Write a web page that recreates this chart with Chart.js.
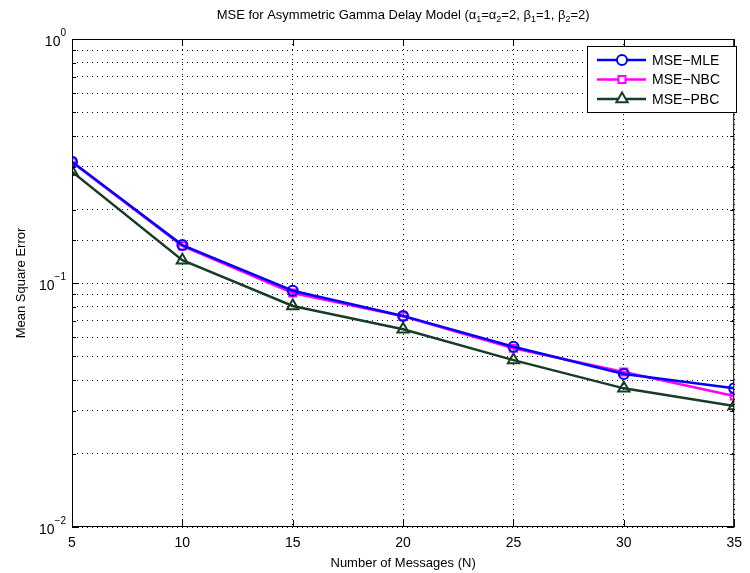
<!DOCTYPE html>
<html><head><meta charset="utf-8">
<script src="https://cdn.jsdelivr.net/npm/chart.js@4/dist/chart.umd.min.js"></script>
<style>html,body{margin:0;padding:0;background:#fff}#c{display:block}</style>
</head><body>
<canvas id="c" width="750" height="573"></canvas>
<script>
const messages = [5, 10, 15, 20, 25, 30, 35];
const mseMLE = [0.314, 0.143, 0.093, 0.0733, 0.0548, 0.0424, 0.0370];
const mseNBC = [0.313, 0.142, 0.091, 0.0730, 0.0540, 0.0432, 0.0344];
const msePBC = [0.286, 0.124, 0.0805, 0.0646, 0.0483, 0.0370, 0.0313];
const seriesNames = ['MSE\u2212MLE', 'MSE\u2212NBC', 'MSE\u2212PBC'];
const yTickLabels = [{v:1, exp:'0'}, {v:0.1, exp:'\u22121'}, {v:0.01, exp:'\u22122'}];
const xTickValues = [5, 10, 15, 20, 25, 30, 35];

const FONT = '"Liberation Sans", Arial, Helvetica, sans-serif';
const colors = ['#0000ff', '#ff00ff', '#173d26'];
const markers = ['circle', 'rect', 'triangle'];

function mk(i, data) {
  return {
    label: seriesNames[i],
    data: messages.map((x, k) => ({x, y: data[k]})),
    borderColor: colors[i], backgroundColor: colors[i],
    pointBorderColor: colors[i], pointBackgroundColor: 'rgba(0,0,0,0)',
    pointStyle: markers[i], pointRadius: i === 2 ? 6.5 : 5, pointBorderWidth: 2,
    borderWidth: 2.5, tension: 0, fill: false
  };
}

const framePlugin = {
  id: 'frame',
  afterDatasetsDraw(chart) {
    const ctx = chart.ctx, a = chart.chartArea;
    const xs = chart.scales.x, ys = chart.scales.y;
    ctx.save();
    ctx.setLineDash([]);
    ctx.strokeStyle = '#000'; ctx.lineWidth = 1;
    ctx.strokeRect(a.left + 0.5, a.top + 0.5, a.right - a.left - 1, a.bottom - a.top - 1);
    ctx.beginPath();
    xTickValues.forEach(v => {
      const px = Math.round(xs.getPixelForValue(v)) + 0.5;
      ctx.moveTo(px, a.bottom); ctx.lineTo(px, a.bottom - 7);
      ctx.moveTo(px, a.top); ctx.lineTo(px, a.top + 7);
    });
    ys.ticks.forEach(t => {
      const py = Math.round(ys.getPixelForValue(t.value)) + 0.5;
      const lg = Math.log10(t.value);
      const major = Math.abs(lg - Math.round(lg)) < 1e-9;
      const len = major ? 7 : 4;
      ctx.moveTo(a.left, py); ctx.lineTo(a.left + len, py);
      ctx.moveTo(a.right, py); ctx.lineTo(a.right - len, py);
    });
    ctx.stroke();
    ctx.fillStyle = '#000';
    yTickLabels.forEach(t => {
      const py = ys.getPixelForValue(t.v);
      ctx.textBaseline = 'middle';
      ctx.textAlign = 'left';
      const expFont = '10px ' + FONT;
      ctx.font = expFont;
      const ew = ctx.measureText(t.exp).width;
      ctx.font = '14px ' + FONT;
      const bw = ctx.measureText('10').width;
      const x0 = a.left - 6 - ew - bw;
      ctx.fillText('10', x0, py + 3);
      ctx.font = expFont;
      ctx.fillText(t.exp, x0 + bw, py - 6);
    });
    const lx = 587, ly = 46, lw = 149, lh = 66;
    ctx.fillStyle = '#fff';
    ctx.fillRect(lx, ly, lw, lh);
    ctx.strokeStyle = '#000'; ctx.lineWidth = 1;
    ctx.strokeRect(lx + 0.5, ly + 0.5, lw, lh);
    chart.data.datasets.forEach((ds, i) => {
      const yy = 60 + i * 19.5;
      ctx.strokeStyle = ds.borderColor; ctx.lineWidth = 2.5;
      ctx.beginPath(); ctx.moveTo(597, yy); ctx.lineTo(646, yy); ctx.stroke();
      ctx.lineWidth = 2;
      ctx.fillStyle = '#fff';
      Chart.helpers.drawPoint(ctx, {pointStyle: ds.pointStyle, radius: i === 2 ? 6.5 : 5, borderWidth: 2}, 622, yy);
      ctx.fillStyle = '#000';
      ctx.font = '14px ' + FONT; ctx.textAlign = 'left'; ctx.textBaseline = 'middle';
      ctx.fillText(ds.label, 652, yy + 1);
    });
    const cx = (a.left + a.right) / 2, ty = 15;
    const parts = [
      ['MSE for Asymmetric Gamma Delay Model (\u03b1', 0], ['1', 1], ['=\u03b1', 0], ['2', 1],
      ['=2, \u03b2', 0], ['1', 1], ['=1, \u03b2', 0], ['2', 1], ['=2)', 0]
    ];
    const big = '13px ' + FONT, small = '9px ' + FONT;
    let tw = 0;
    parts.forEach(p => { ctx.font = p[1] ? small : big; tw += ctx.measureText(p[0]).width; });
    let x = cx - tw / 2;
    ctx.textAlign = 'left'; ctx.textBaseline = 'middle'; ctx.fillStyle = '#000';
    parts.forEach(p => {
      ctx.font = p[1] ? small : big;
      ctx.fillText(p[0], x, p[1] ? ty + 5 : ty);
      x += ctx.measureText(p[0]).width;
    });
    ctx.restore();
  }
};

new Chart(document.getElementById('c'), {
  type: 'line',
  data: { datasets: [mk(0, mseMLE), mk(1, mseNBC), mk(2, msePBC)] },
  options: {
    responsive: false, animation: false, devicePixelRatio: 1,
    layout: { padding: { top: 39, right: 7, left: 4, bottom: 0 } },
    plugins: { legend: { display: false }, title: { display: false }, tooltip: { enabled: false } },
    scales: {
      x: {
        type: 'linear', min: 5, max: 35,
        afterBuildTicks: s => { s.ticks = xTickValues.map(v => ({value: v})); },
        afterFit: s => { s.height = 46; },
        grid: { color: '#000', lineWidth: 1, drawTicks: false },
        border: { display: false, dash: [1, 4] },
        ticks: { color: '#000', font: { family: FONT, size: 14 }, padding: 8, maxRotation: 0 },
        title: { display: true, text: 'Number of Messages (N)', color: '#000', font: { family: FONT, size: 13 }, padding: { top: 0, bottom: 2 } }
      },
      y: {
        type: 'logarithmic', min: 0.01, max: 1,
        afterFit: s => { s.width = 68; },
        grid: { color: '#000', lineWidth: 1, drawTicks: false },
        border: { display: false, dash: [1, 4] },
        ticks: { display: false },
        title: { display: true, text: 'Mean Square Error', color: '#000', font: { family: FONT, size: 13 }, padding: { top: 10, bottom: 0 } }
      }
    }
  },
  plugins: [framePlugin]
});
</script>
</body></html>
